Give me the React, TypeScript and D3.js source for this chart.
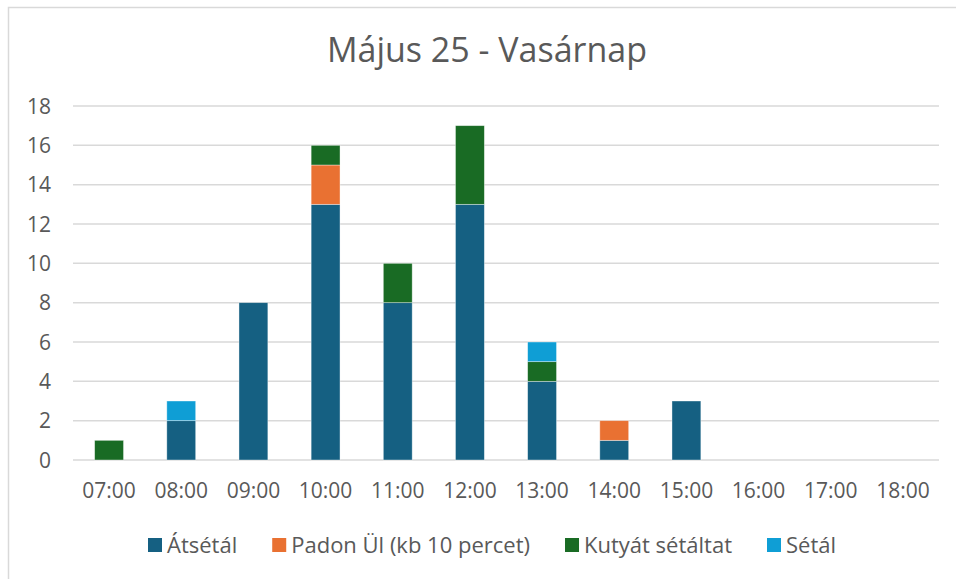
import React, { useEffect, useRef } from "react";
import * as d3 from "d3";

const hours = ["07:00", "08:00", "09:00", "10:00", "11:00", "12:00", "13:00", "14:00", "15:00", "16:00", "17:00", "18:00"];
const seriesNames = ["Átsétál", "Padon Ül (kb 10 percet)", "Kutyát sétáltat", "Sétál"];
const seriesColors = ["#156082", "#E97132", "#196B24", "#0F9ED5"];
const atsetal = [0, 2, 8, 13, 8, 13, 4, 1, 3, 0, 0, 0];
const padonUl = [0, 0, 0, 2, 0, 0, 0, 1, 0, 0, 0, 0];
const kutyat = [1, 0, 0, 1, 2, 4, 1, 0, 0, 0, 0, 0];
const setal = [0, 1, 0, 0, 0, 0, 1, 0, 0, 0, 0, 0];
const yTicks = [0, 2, 4, 6, 8, 10, 12, 14, 16, 18];
const title = "Május 25 - Vasárnap";

const W = 956;
const H = 579;
const margin = { top: 106, right: 17, bottom: 119, left: 73 };
const font = "'Open Sans', sans-serif";
const textColor = "#595959";

const App = () => {
  const ref = useRef<SVGSVGElement>(null);

  useEffect(() => {
    document.body.style.margin = "0";
    const svg = d3.select(ref.current);
    svg.selectAll("*").remove();

    const rows = hours.map((h, i) => ({
      hour: h,
      s0: atsetal[i],
      s1: padonUl[i],
      s2: kutyat[i],
      s3: setal[i],
    }));
    const keys = ["s0", "s1", "s2", "s3"];
    const stacked = d3.stack<any>().keys(keys)(rows);

    const x = d3
      .scaleBand()
      .domain(hours)
      .range([margin.left, W - margin.right])
      .paddingInner(0.6)
      .paddingOuter(0.3);
    const y = d3
      .scaleLinear()
      .domain([0, 18])
      .range([H - margin.bottom, margin.top]);

    // chart frame
    svg
      .append("rect")
      .attr("x", 8.5)
      .attr("y", 7.5)
      .attr("width", W + 10)
      .attr("height", H + 10)
      .attr("fill", "#fff")
      .attr("stroke", "#d9d9d9")
      .attr("stroke-width", 1.5);

    svg
      .append("text")
      .attr("x", 487)
      .attr("y", 62)
      .attr("text-anchor", "middle")
      .style("font-family", font)
      .style("font-size", "34px")
      .style("fill", textColor)
      .text(title);

    // gridlines
    svg
      .append("g")
      .selectAll("line")
      .data(yTicks)
      .join("line")
      .attr("x1", margin.left)
      .attr("x2", W - margin.right)
      .attr("y1", (d) => y(d))
      .attr("y2", (d) => y(d))
      .attr("stroke", "#d9d9d9")
      .attr("stroke-width", 1.5);

    svg
      .append("g")
      .selectAll("text")
      .data(yTicks)
      .join("text")
      .attr("x", 51)
      .attr("y", (d) => y(d))
      .attr("dy", "0.36em")
      .attr("text-anchor", "end")
      .style("font-family", font)
      .style("font-size", "21px")
      .style("fill", textColor)
      .text((d) => d);

    svg
      .append("g")
      .selectAll("text")
      .data(hours)
      .join("text")
      .attr("x", (d) => x(d)! + x.bandwidth() / 2)
      .attr("y", 498)
      .attr("text-anchor", "middle")
      .style("font-family", font)
      .style("font-size", "21px")
      .style("fill", textColor)
      .text((d) => d);

    // bars
    svg
      .append("g")
      .selectAll("g")
      .data(stacked)
      .join("g")
      .attr("fill", (d, i) => seriesColors[i])
      .selectAll("rect")
      .data((d) => d.filter((p) => p[1] - p[0] > 0))
      .join("rect")
      .attr("x", (d) => x(d.data.hour)!)
      .attr("width", x.bandwidth())
      .attr("y", (d) => y(d[1]))
      .attr("height", (d) => y(d[0]) - y(d[1]))
      .attr("stroke", "#ffffff")
      .attr("stroke-opacity", 0.5)
      .attr("stroke-width", 0.75);

    // legend
    const legend = svg.append("g");
    let lx = 148;
    seriesNames.forEach((name, i) => {
      legend
        .append("rect")
        .attr("x", lx)
        .attr("y", 538)
        .attr("width", 14)
        .attr("height", 14)
        .attr("fill", seriesColors[i]);
      const t = legend
        .append("text")
        .attr("x", lx + 19)
        .attr("y", 553)
        .style("font-family", font)
        .style("font-size", "22px")
        .style("fill", textColor)
        .text(name);
      const tw = (t.node() as SVGTextElement).getComputedTextLength();
      lx += 19 + tw + 35;
    });
  }, []);

  return <svg ref={ref} width={W} height={H} style={{ display: "block" }} />;
};

export default App;
